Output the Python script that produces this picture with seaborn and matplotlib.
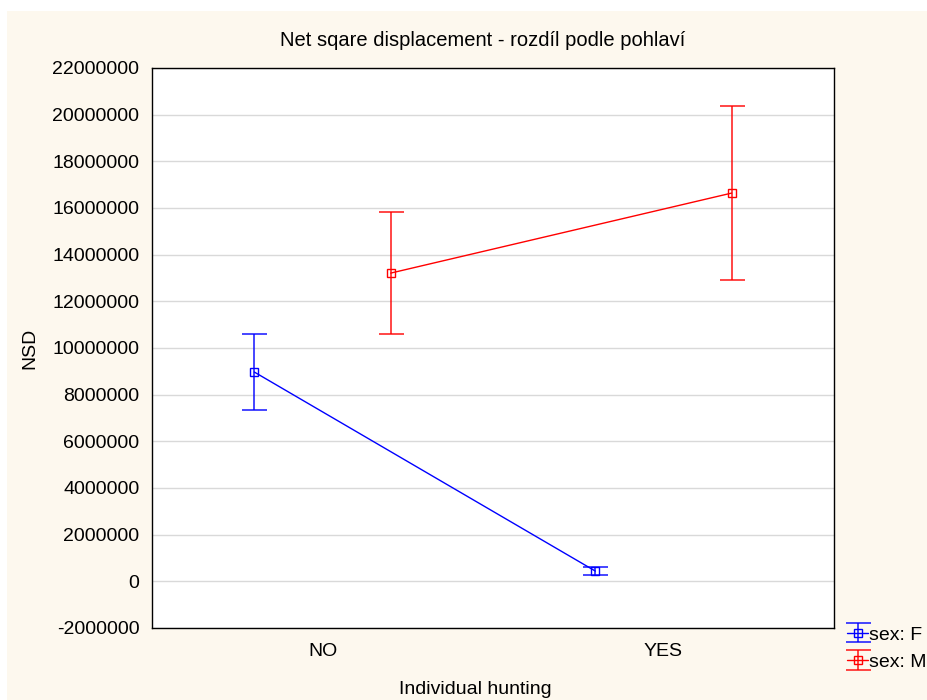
import numpy as np
import pandas as pd
import matplotlib
matplotlib.use("Agg")
import matplotlib.pyplot as plt
from matplotlib.patches import Rectangle
from matplotlib.legend_handler import HandlerTuple
import seaborn as sns

# Group means and half-widths of the error bars (NSD)
hunting = ["NO", "YES"]
sex = ["F", "M"]
nsd_f = [8970000, 440000]
nsd_m = [13210000, 16640000]
err_f = [1630000, 170000]
err_m = [2630000, 3730000]

yticks = list(range(-2000000, 22000001, 2000000))
colors = {"F": "#0000ff", "M": "#ff0000"}

df = pd.DataFrame({
    "hunting": hunting * 2,
    "sex": ["F"] * 2 + ["M"] * 2,
    "nsd": nsd_f + nsd_m,
    "err": err_f + err_m,
})

sns.set_theme(style="white")
plt.rcParams["font.family"] = ["Liberation Sans", "DejaVu Sans"]
plt.rcParams["text.color"] = "black"
plt.rcParams["axes.labelcolor"] = "black"
plt.rcParams["xtick.color"] = "black"
plt.rcParams["ytick.color"] = "black"

fig = plt.figure(figsize=(9.28, 7.0), dpi=100, facecolor="white")
fig.patches.append(Rectangle((7 / 928, 0), 1, 1 - 11 / 700, transform=fig.transFigure,
                             facecolor="#fdf8ee", edgecolor="none", zorder=-10))
ax = fig.add_axes([152 / 928, 1 - 628 / 700, 682 / 928, 560 / 700])
ax.set_facecolor("white")

sns.pointplot(data=df, x="hunting", y="nsd", hue="sex", order=hunting, hue_order=sex,
              dodge=0.4, errorbar=None, markers="s", palette=colors, ax=ax,
              linewidth=1, markersize=6, markerfacecolor="none", markeredgewidth=1,
              legend=False)

handles = []
for s in sex:
    sub = df[df["sex"] == s].set_index("hunting").loc[hunting]
    line = [l for l in ax.lines if len(l.get_xdata()) == 2 and
            np.allclose(l.get_ydata(), sub["nsd"].values)][0]
    line.set_markerfacecolor("none")
    h = ax.errorbar(line.get_xdata(), sub["nsd"].values, yerr=sub["err"].values,
                    fmt="none", ecolor=colors[s], elinewidth=1.2, capsize=9,
                    capthick=1.2, alpha=0.85, zorder=3)
    handles.append((h, line))

ax.set_xlim(-0.5, 1.5)
ax.set_ylim(-2000000, 22000000)
ax.set_yticks(yticks)
ax.set_yticklabels([str(t) for t in yticks], fontsize=14)
ax.set_xticks(range(len(hunting)))
ax.set_xticklabels(hunting, fontsize=14)
ax.grid(axis="y", color="#d9d9d9", linewidth=1)
ax.set_axisbelow(True)
ax.tick_params(axis="both", direction="in", length=4, width=1, color="black")
ax.tick_params(axis="y", pad=9)
ax.tick_params(axis="x", pad=11)
for sp in ax.spines.values():
    sp.set_color("black")
    sp.set_linewidth(1)

ax.set_xlabel("")
ax.set_ylabel("NSD", fontsize=14, labelpad=10)
fig.text(475 / 928, 1 - 689 / 700, "Individual hunting", ha="center", va="center",
         fontsize=14)

fig.text(483 / 928, 1 - 40 / 700, "Net sqare displacement - rozdíl podle pohlaví",
         ha="center", va="center", fontsize=14.5)

leg = fig.legend(handles, [f"sex: {s}" for s in sex],
                 handler_map={tuple: HandlerTuple(ndivide=1)},
                 loc="upper left", bbox_to_anchor=(843 / 928, 1 - 622 / 700),
                 frameon=False, fontsize=14, handlelength=1.1, handletextpad=0.05,
                 labelspacing=0.5, borderaxespad=0, borderpad=0.2)

fig.savefig("out.png", dpi=100, facecolor=fig.get_facecolor())
